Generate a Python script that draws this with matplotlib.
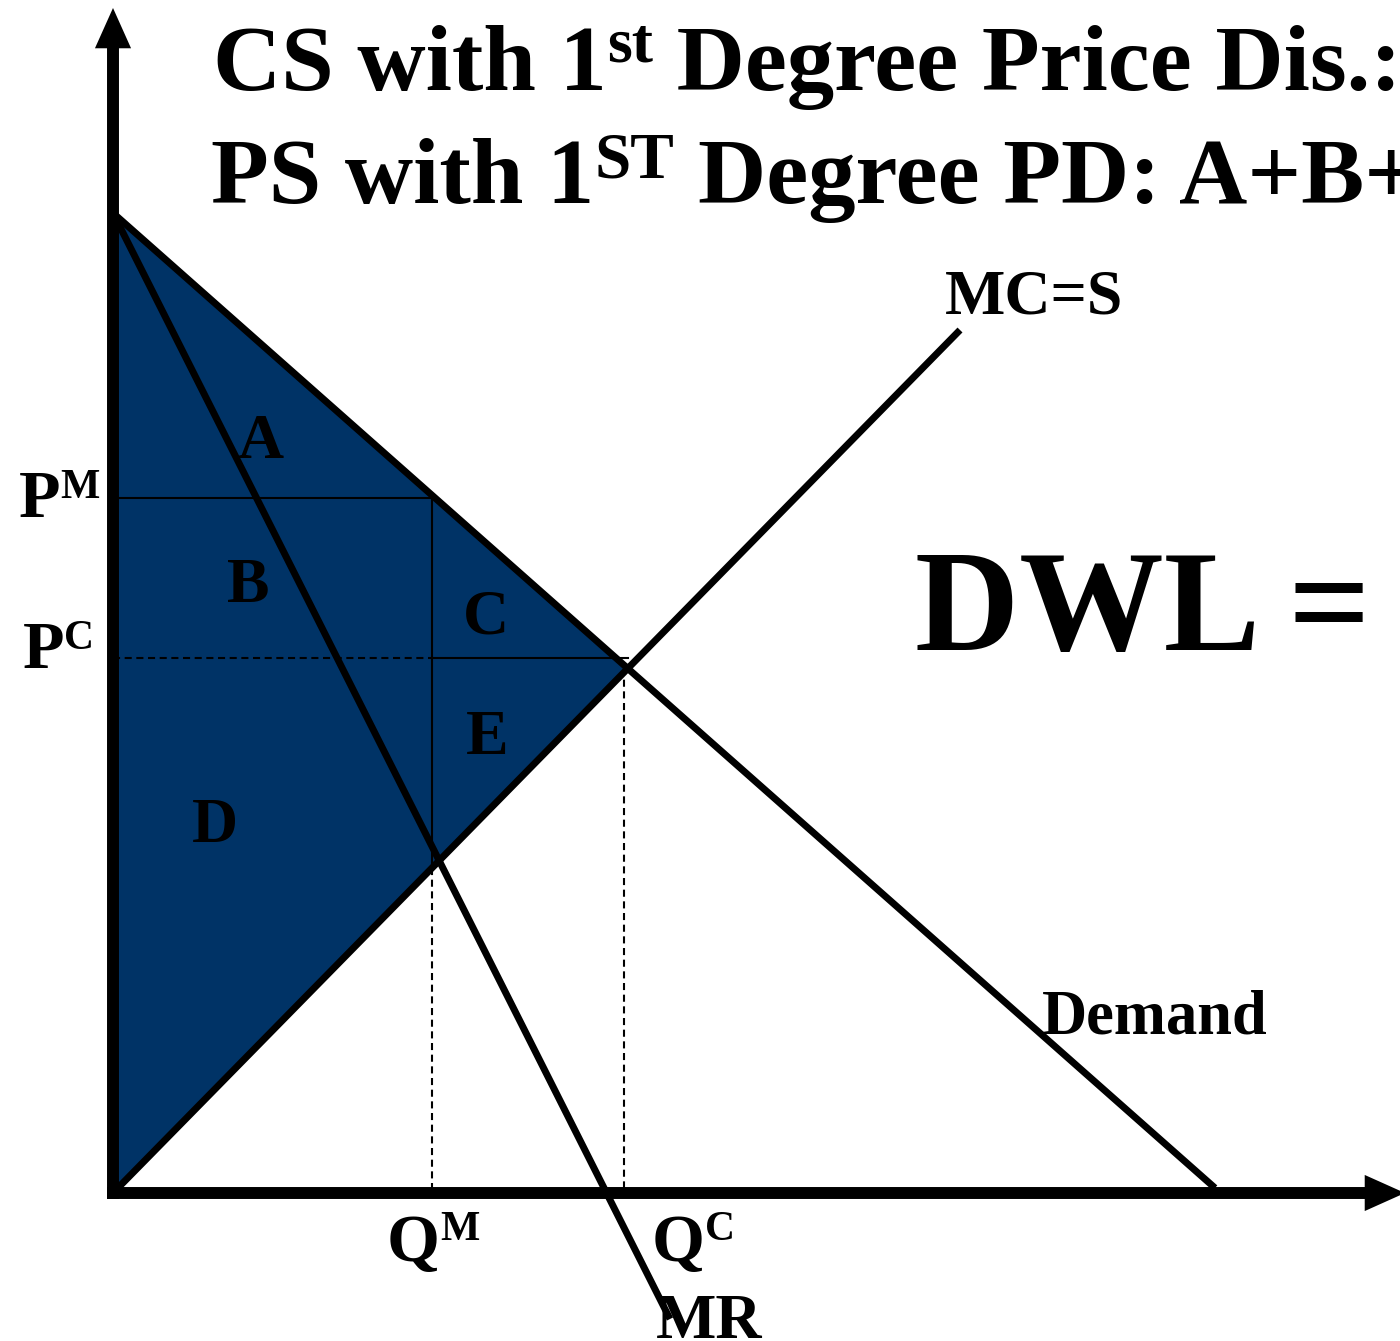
import numpy as np
import matplotlib
matplotlib.use("Agg")
import matplotlib.pyplot as plt
from matplotlib.transforms import Affine2D

# ---- economic model data (units: price / quantity) ----
demand_q = [0.0, 110.2]
demand_p = [98.0, 0.5]
mc_q = [0.0, 84.7]
mc_p = [0.0, 86.3]
mr_q = [0.0, 55.7]
mr_p = [98.0, -12.6]
q_monopoly = 31.9
p_monopoly = 69.5
q_competitive = 51.1
p_competitive = 53.5

region_labels = ["A", "B", "C", "E", "D"]
title_line1 = ["CS with 1", "st", " Degree Price Dis.:"]
title_line2 = ["PS with 1", "ST", " Degree PD: A+B+C+D+E"]

W, H, DPI = 1400, 1341, 100
NAVY = "#003366"
FONT = "Liberation Serif"

fig = plt.figure(figsize=(W / DPI, H / DPI), dpi=DPI)
ax = fig.add_axes([0, 0, 1, 1])
ax.set_xlim(-11.3, 128.7)
ax.set_ylim(-14.8, 119.3)
ax.axis("off")


def line_eq(qs, ps):
    m = (ps[1] - ps[0]) / (qs[1] - qs[0])
    return m, ps[0] - m * qs[0]


md, bd = line_eq(demand_q, demand_p)
mm, bm = line_eq(mc_q, mc_p)
# demand / MC intersection
qi = (bm - bd) / (md - mm)
pi = md * qi + bd
# MC height at monopoly quantity
p_mc_qm = mm * q_monopoly + bm

# shaded area: total surplus captured
ax.fill([0, qi, 0], [demand_p[0], pi, 0], color=NAVY, lw=0, zorder=1)

thin = 1.5
dash = (3.4, 2.2)
# P^M horizontal (solid)
ax.plot([0, q_monopoly], [p_monopoly, p_monopoly], color="k", lw=thin, zorder=2)
# Q^M vertical: solid inside the shaded area, dashed below
ax.plot([q_monopoly, q_monopoly], [p_monopoly, p_mc_qm], color="k", lw=thin, zorder=2)
ax.plot([q_monopoly, q_monopoly], [p_mc_qm, 0], color="k", lw=thin,
        dashes=dash, zorder=2)
# P^C horizontal: dashed then solid
ax.plot([0, q_monopoly], [p_competitive, p_competitive], color="k", lw=thin,
        dashes=dash, zorder=2)
ax.plot([q_monopoly, qi], [p_competitive, p_competitive], color="k", lw=thin, zorder=2)
# Q^C vertical dashed
ax.plot([q_competitive, q_competitive], [pi, 0], color="k", lw=thin,
        dashes=dash, zorder=2)

# curves
ax.plot(demand_q, demand_p, color="k", lw=5, solid_capstyle="butt", zorder=3)
ax.plot(mc_q, mc_p, color="k", lw=5, solid_capstyle="butt", zorder=3)
ax.plot(mr_q, mr_p, color="k", lw=5, solid_capstyle="butt", zorder=3)

# axes with arrows
x_tip, y_tip = 129.2, 118.5
ax.plot([-0.6, x_tip - 2.5], [0, 0], color="k", lw=8.6, solid_capstyle="butt",
        zorder=4, clip_on=False)
ax.plot([0, 0], [-0.6, y_tip - 2.5], color="k", lw=8.6, solid_capstyle="butt", zorder=4)
head = dict(arrowstyle="-|>,head_length=2.9,head_width=1.3", mutation_scale=10,
            lw=0, fc="k", ec="k", shrinkA=0, shrinkB=0)
ax.annotate("", xy=(x_tip, 0), xytext=(x_tip - 6, 0), arrowprops=head, zorder=5,
            annotation_clip=False)
ax.annotate("", xy=(0, y_tip), xytext=(0, y_tip - 6), arrowprops=head, zorder=5,
            annotation_clip=False)

# ---- text (positions in pixel coordinates, y measured from the top) ----
pix = Affine2D().scale(1, -1).translate(0, H)
renderer = fig.canvas.get_renderer()


def runs(x, y, parts):
    for txt, size, rise in parts:
        t = fig.text(x, y - rise, txt, fontsize=size, family=FONT, weight="bold",
                     transform=pix, ha="left", va="baseline", zorder=6)
        x += t.get_window_extent(renderer).width


runs(213, 90, [(title_line1[0], 68, 0), (title_line1[1], 46, 28), (title_line1[2], 68, 0)])
runs(211, 203, [(title_line2[0], 68, 0), (title_line2[1], 47, 26), (" ", 68, 0),
                (title_line2[2].lstrip(), 68, 0)])

runs(19, 517, [("P", 49, 0), ("M", 30, 19)])
runs(23, 668, [("P", 49, 0), ("C", 30, 19)])
runs(387, 1261, [("Q", 49, 0), ("M", 30, 21)])
runs(652, 1261, [("Q", 49, 0), ("C", 30, 21)])

runs(945, 314, [("MC=S", 46, 0)])
runs(1042, 1033, [("Demand", 45, 0)])
runs(656, 1338, [("MR", 46, 0)])
runs(915, 650, [("DWL =", 104, 0)])

label_pos = {"A": (260, 458), "B": (248, 602), "C": (486, 633),
             "E": (487, 754), "D": (215, 842)}
for lab in region_labels:
    x, y = label_pos[lab]
    fig.text(x, y, lab, fontsize=46, family=FONT, weight="bold", transform=pix,
             ha="center", va="baseline", zorder=6)

fig.savefig("out.png", dpi=DPI)
